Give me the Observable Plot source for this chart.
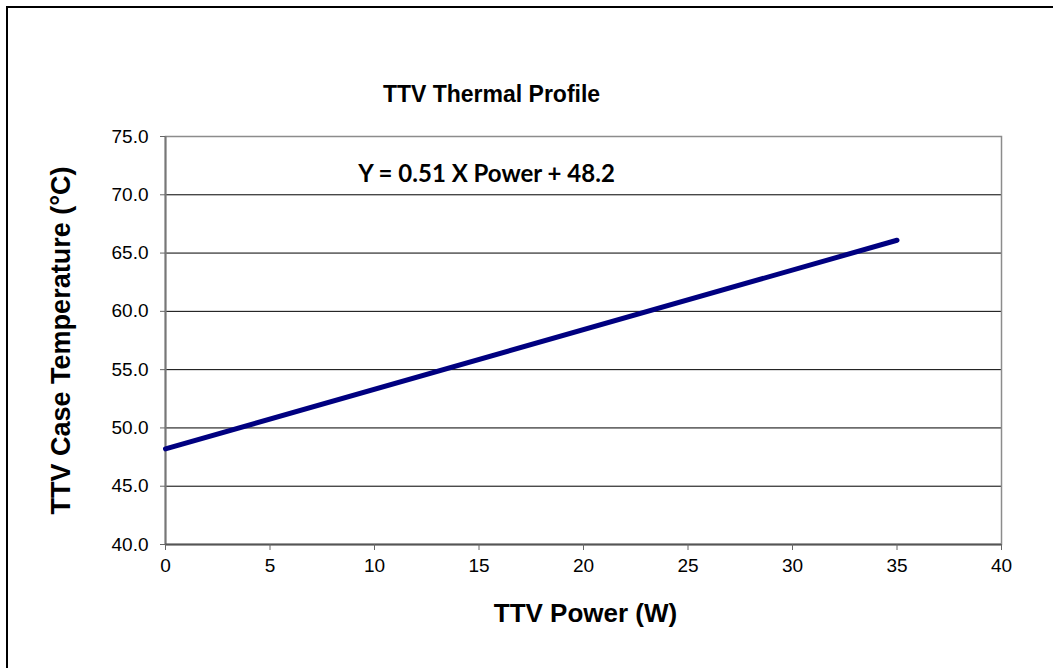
<!DOCTYPE html>
<html><head><meta charset="utf-8">
<script src="https://cdn.jsdelivr.net/npm/d3@7"></script>
<script src="https://cdn.jsdelivr.net/npm/@observablehq/plot@0.6"></script>
<style>
html,body{margin:0;padding:0;background:#fff;}
#wrap{position:relative;width:1053px;height:668px;overflow:hidden;}
#chart{position:absolute;left:0;top:0;}
#border{position:absolute;left:6px;top:6px;width:2000px;height:2000px;border-left:2px solid #000;border-top:2px solid #000;pointer-events:none;}
</style></head><body>
<div id="wrap"><div id="chart"></div><div id="border"></div></div>
<script>
const powerW = [0, 35];
const caseTempC = [48.2, 66.1];
const xTicks = [0, 5, 10, 15, 20, 25, 30, 35, 40];
const yTicks = [40, 45, 50, 55, 60, 65, 70, 75];
const gridValues = [45, 50, 55, 60, 65, 70];
const titleText = "TTV Thermal Profile";
const equationText = "Y = 0.51 X Power + 48.2";
const xLabel = "TTV Power (W)";
const yLabel = "TTV Case Temperature (°C)";

const data = powerW.map((x, i) => ({x, y: caseTempC[i]}));

const chart = Plot.plot({
  width: 1053,
  height: 668,
  marginLeft: 165,
  marginRight: 52,
  marginTop: 136,
  marginBottom: 124,
  style: {fontFamily: "Arial, 'Liberation Sans', sans-serif", background: "#fff", color: "#000"},
  x: {domain: [0, 40]},
  y: {domain: [40, 75]},
  marks: [
    Plot.ruleY(gridValues, {stroke: "#000", strokeWidth: 1}),
    Plot.frame({stroke: "#8c8c8c", strokeWidth: 1.5}),
    Plot.ruleX([0], {stroke: "#777", strokeWidth: 2}),
    Plot.ruleY([40], {stroke: "#555", strokeWidth: 2}),
    Plot.axisY({ticks: yTicks, tickFormat: d3.format(".1f"), tickSize: 5, tickPadding: 12, fontSize: 19, stroke: "#666", label: null}),
    Plot.axisX({ticks: xTicks, tickFormat: d3.format("d"), tickSize: 6, tickPadding: 8, fontSize: 19, stroke: "#666", label: null}),
    Plot.line(data, {x: "x", y: "y", stroke: "#000080", strokeWidth: 5, strokeLinecap: "round"}),
    Plot.text([titleText], {text: d => d, frameAnchor: "top-left", lineAnchor: "middle", dx: 326, dy: -42, fontSize: 23, fontWeight: "bold", textAnchor: "middle"}),
    Plot.text([equationText], {text: d => d, frameAnchor: "top-left", lineAnchor: "middle", dx: 321, dy: 38, fontSize: 24, fontWeight: "bold", textAnchor: "middle", fontFamily: "Lato, 'Open Sans', sans-serif"}),
    Plot.text([xLabel], {text: d => d, frameAnchor: "bottom", lineAnchor: "middle", dx: 2, dy: 69, fontSize: 26, fontWeight: "bold", textAnchor: "middle"}),
    Plot.text([yLabel], {text: d => d, frameAnchor: "left", lineAnchor: "middle", rotate: -90, dx: -104, fontSize: 27, fontWeight: "bold", textAnchor: "middle"})
  ]
});
document.getElementById("chart").appendChild(chart);
</script>
</body></html>
